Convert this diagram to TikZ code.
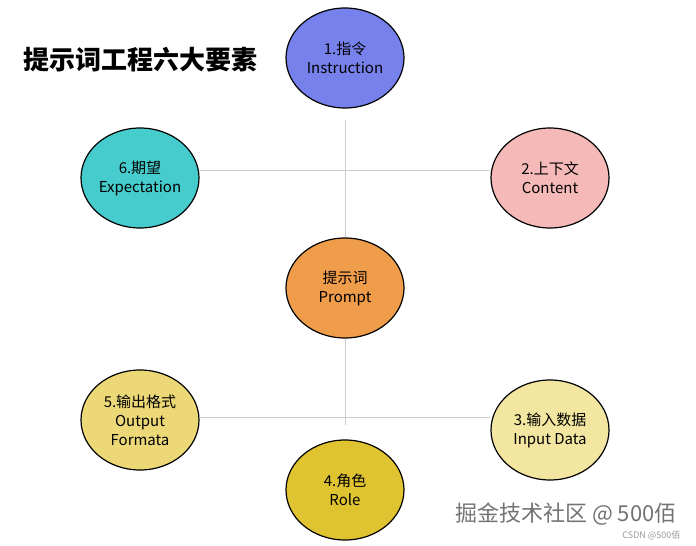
\documentclass[tikz,border=0pt]{standalone}
\usepackage{fontspec}
\setmainfont{Noto Sans CJK SC}
\usepackage{xcolor}
\definecolor{c_blue}{HTML}{7681EC}
\definecolor{c_pink}{HTML}{F5B9B8}
\definecolor{c_teal}{HTML}{46CCCD}
\definecolor{c_orange}{HTML}{EF9D4A}
\definecolor{c_yellow}{HTML}{ECD877}
\definecolor{c_pale}{HTML}{F2E6A1}
\definecolor{c_mustard}{HTML}{E0C330}
\usetikzlibrary{shapes.geometric}

\begin{document}
\begin{tikzpicture}[
    x=1pt,y=-1pt,
    element/.style={ellipse,draw=black,line width=1.2pt,minimum width=118pt,minimum height=100pt,
        align=center,font=\fontsize{15}{19}\selectfont,inner sep=0pt},
    link/.style={draw=black!20,line width=1pt}]
    \useasboundingbox (0,0) rectangle (696,546);

    % connectors behind the elements
    \coordinate (topend) at (345,120);
    \coordinate (botend) at (345,425);
    \coordinate (upperleft) at (200,170);
    \coordinate (upperright) at (490,170);
    \coordinate (lowerleft) at (200,417);
    \coordinate (lowerright) at (490,417);

    \node[element,fill=c_orange] (prompt) at (345,288) {提示词\\Prompt};
    \path[link] (topend) -- (prompt);
    \path[link] (prompt) -- (botend);
    \path[link] (upperleft) -- (upperright);
    \path[link] (lowerleft) -- (lowerright);

    \node[element,fill=c_blue] (instruction) at (345,58) {1.指令\\Instruction};
    \node[element,fill=c_pink] (content) at (550,178) {2.上下文\\Content};
    \node[element,fill=c_teal] (expectation) at (140,178) {6.期望\\Expectation};
    \node[element,fill=c_yellow] (output) at (140,420) {5.输出格式\\Output\\Formata};
    \node[element,fill=c_pale] (input) at (550,430) {3.输入数据\\Input Data};
    \node[element,fill=c_mustard] (role) at (345,490) {4.角色\\Role};

    \node[font=\fontsize{26}{30}\selectfont\bfseries,anchor=west] (title) at (20,60) {提示词工程六大要素};

    % watermark
    \node[font=\fontsize{22}{26}\selectfont,text=black!55,anchor=east] (mark) at (680,514) {掘金技术社区 @ 500佰};
    \node[font=\fontsize{9}{11}\selectfont,text=black!40,anchor=east] (csdn) at (684,536) {CSDN @500佰};
\end{tikzpicture}
\end{document}
